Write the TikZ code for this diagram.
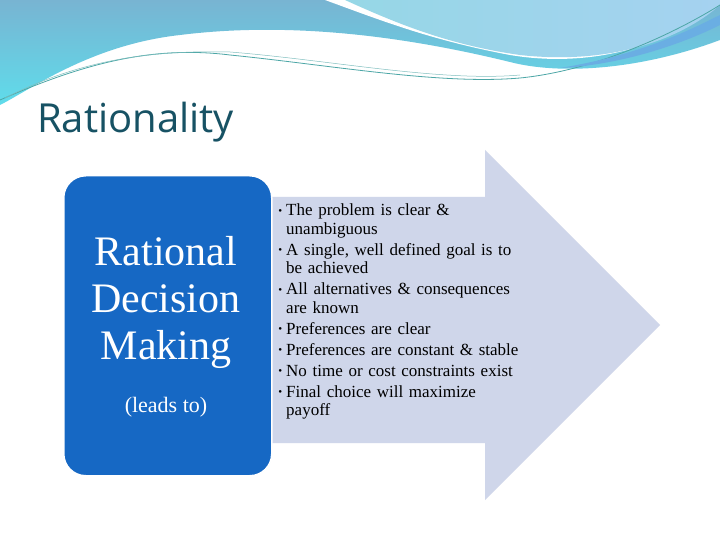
\documentclass[tikz,border=0pt]{standalone}
\usepackage{fontspec}
\setmainfont{Liberation Serif}
\newfontfamily\titlefont{Open Sans}
\definecolor{boxblue}{RGB}{22,104,196}
\definecolor{arrowfill}{RGB}{207,214,234}
\definecolor{titlecol}{RGB}{23,82,100}
\definecolor{waveA}{RGB}{120,180,210}
\definecolor{waveB}{RGB}{95,220,235}
\definecolor{waveC}{RGB}{150,215,230}
\definecolor{waveD}{RGB}{165,210,240}
\begin{document}
\begin{tikzpicture}[x=1pt,y=-1pt,
  bul/.style={font=\fontsize{17}{18.5}\selectfont, text width=245.5pt, align=left, inner sep=0pt, anchor=north west}]
\useasboundingbox (0,0) rectangle (720,540);
\fill[white] (0,0) rectangle (720,540);
% top waves
\shade[top color=waveA, bottom color=waveB] (0,0) -- (720,0) -- (720,40) .. controls (640,70) and (560,75) .. (510,62) .. controls (420,40) and (300,20) .. (180,35) .. controls (90,45) and (30,90) .. (0,105) -- cycle;
\fill[white] (325,0) .. controls (380,20) and (430,40) .. (510,55) .. controls (600,70) and (680,40) .. (720,0) -- cycle;
\shade[left color=waveC, right color=waveD] (345,0) .. controls (400,25) and (450,45) .. (520,55) .. controls (610,65) and (680,40) .. (720,5) -- (720,0) -- cycle;
\draw[teal!70,line width=0.8pt] (0,100) .. controls (80,65) and (150,45) .. (230,55) .. controls (330,65) and (440,85) .. (520,78) .. controls (600,70) and (680,30) .. (720,5);
\draw[teal!50,line width=0.5pt] (5,98) .. controls (80,60) and (150,50) .. (230,52) .. controls (330,60) and (440,82) .. (520,75);
\fill[cyan!70!blue!60] (560,68) .. controls (640,55) and (690,30) .. (720,15) -- (720,25) .. controls (680,45) and (620,65) .. (560,68) -- cycle;
% title
\node[font=\titlefont\fontsize{40}{48}\selectfont, text=titlecol, anchor=base west, inner sep=0pt] (title) at (37,133) {Rationality};
% arrow
\fill[arrowfill] (265,197) -- (485,197) -- (485,150) -- (660,325) -- (485,500) -- (485,443) -- (265,443) -- cycle;
% box
\node[draw=white, line width=1.5pt, fill=boxblue, rounded corners=22pt, minimum width=208pt, minimum height=300pt, anchor=north west] (box) at (63,175) {};
\node[text=white, font=\fontsize{42}{47}\selectfont, align=center, anchor=center] (rdm) at (166,302) {Rational\\Decision\\Making};
\node[text=white, font=\fontsize{22}{25}\selectfont, anchor=base] (lt) at (166,412) {(leads to)};
% bullets
\node[bul] (items) at (275,197) {%
\begin{list}{\fontsize{11}{11}\selectfont\raisebox{1.5pt}{\textbullet}}{\leftmargin=11pt\labelwidth=6pt\labelsep=4pt\itemsep=2.5pt\parsep=0pt\topsep=0pt\partopsep=0pt}
\item The problem is clear \& unambiguous
\item A single, well defined goal is to be achieved
\item All alternatives \& consequences are known
\item Preferences are clear
\item Preferences are constant \& stable
\item No time or cost constraints exist
\item Final choice will maximize payoff
\end{list}};
\end{tikzpicture}
\end{document}
